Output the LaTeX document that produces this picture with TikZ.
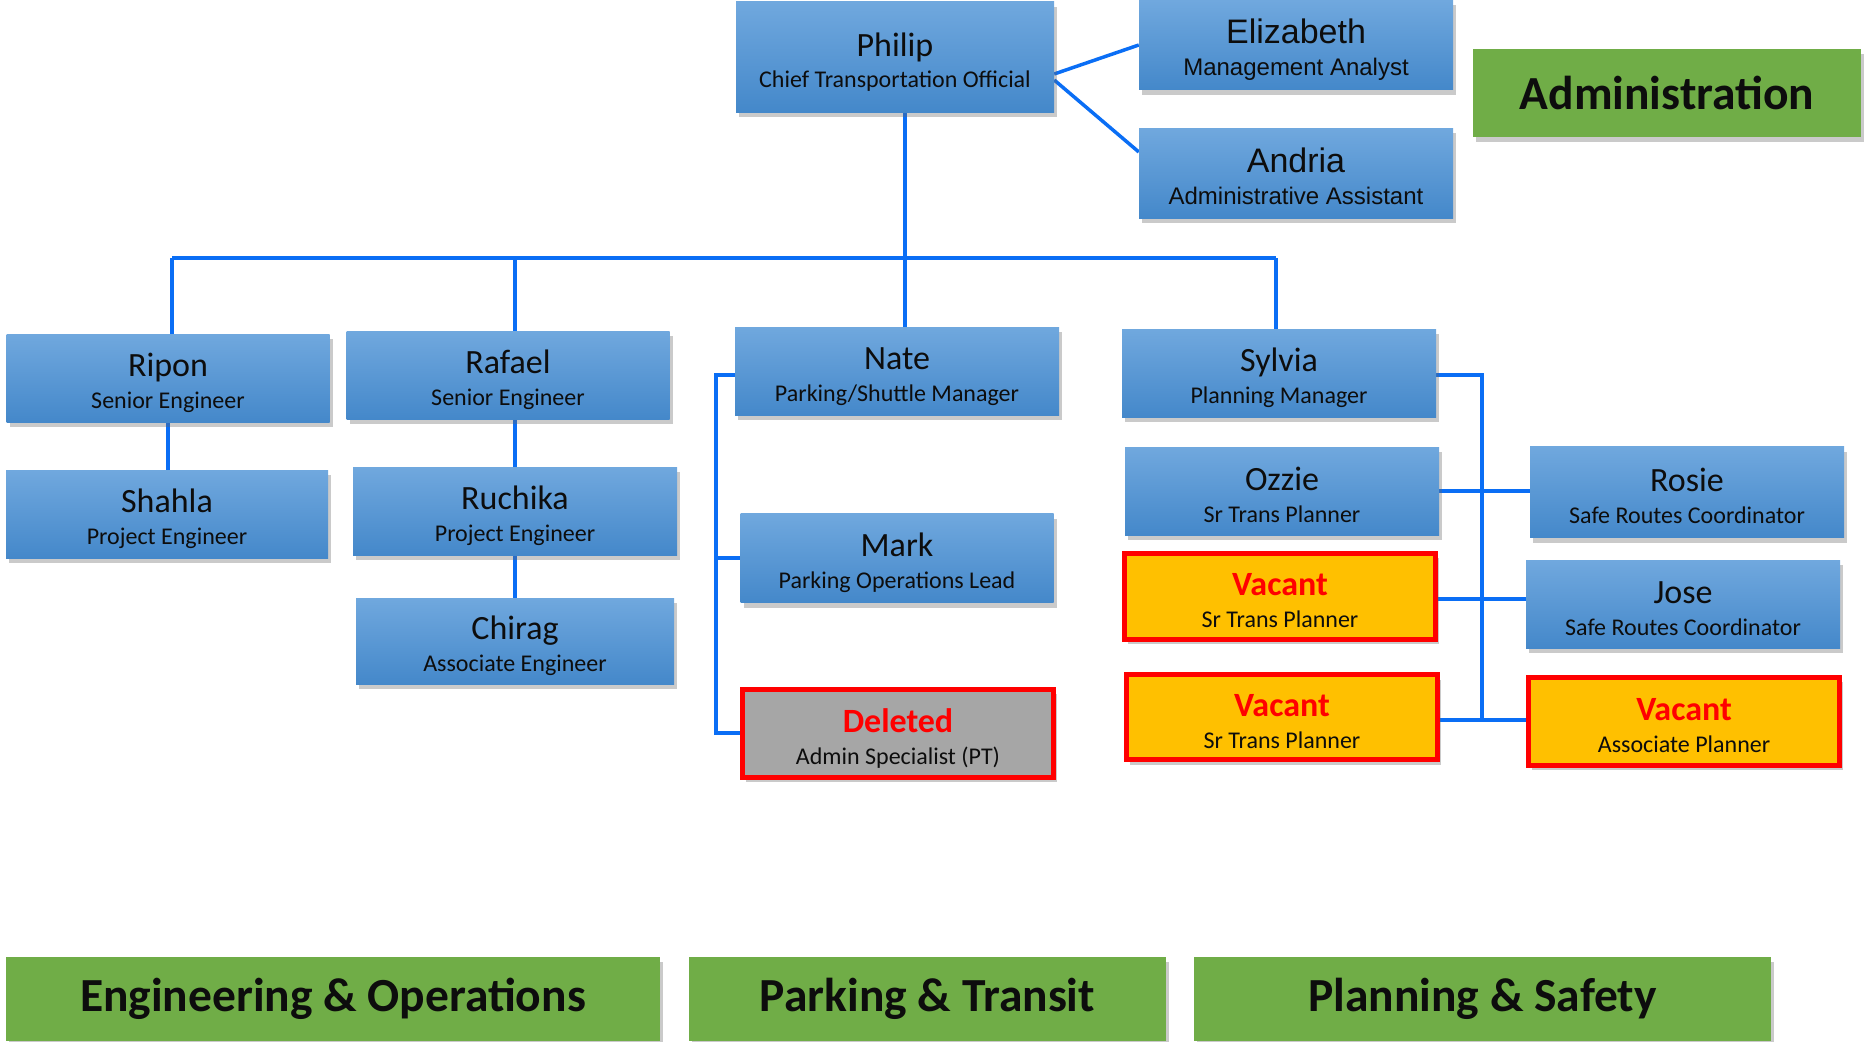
\documentclass[tikz,border=0pt]{standalone}
\usepackage{fontspec}
\setmainfont{Carlito}
\newfontfamily\arialfont{Liberation Sans}
\usetikzlibrary{shadows,backgrounds}

\definecolor{boxtop}{RGB}{112,168,222}
\definecolor{boxbot}{RGB}{68,136,202}
\definecolor{linkblue}{RGB}{10,110,245}
\definecolor{vacantfill}{RGB}{255,192,0}
\definecolor{deletedfill}{RGB}{166,166,166}
\definecolor{groupgreen}{RGB}{112,173,71}
\definecolor{alertred}{RGB}{255,0,0}

% name on top, job title below
\newcommand{\staffname}[2]{\rule{0pt}{34pt}{\fontsize{34}{34}\selectfont #1}\\\rule[-4pt]{0pt}{4pt}#2}
\newcommand{\opening}[1]{\textcolor{alertred}{\bfseries #1}}

\tikzset{
  card/.style={align=center, inner sep=0pt, text=black!95,
    font=\fontsize{24}{32}\selectfont,
    drop shadow={shadow xshift=3pt, shadow yshift=-5pt, opacity=0.35, fill=black!60}},
  staff/.style={card, top color=boxtop, bottom color=boxbot,
    minimum width=316pt, minimum height=88pt},
  vacantbox/.style={card, fill=vacantfill, draw=alertred, line width=5pt,
    minimum width=311pt, minimum height=86pt},
  deletedbox/.style={vacantbox, fill=deletedfill},
  groupbox/.style={card, fill=groupgreen, minimum height=84pt,
    font=\fontsize{47.5}{47.5}\selectfont\bfseries},
  link/.style={draw=linkblue, line width=3.5pt}
}

\begin{document}
\begin{tikzpicture}[x=1pt, y=-1pt]
  \useasboundingbox (0,0) rectangle (1865,1041);

  % Administration
  \node[staff, minimum width=318pt, minimum height=110pt] (philip) at (895,57)
    {\staffname{Philip}{Chief Transportation Official}};
  \node[staff, minimum width=314pt, minimum height=89pt, font=\arialfont\fontsize{24}{32}\selectfont] (elizabeth) at (1296,45)
    {\staffname{Elizabeth}{Management Analyst}};
  \node[staff, minimum width=314pt, minimum height=90pt, font=\arialfont\fontsize{24}{32}\selectfont] (andria) at (1296,173)
    {\staffname{Andria}{Administrative Assistant}};
  \node[groupbox, minimum width=388pt, minimum height=88pt] (admin) at (1667,93) {Administration};

  % Engineering & Operations
  \node[staff, minimum width=323pt] (ripon) at (168,378) {\staffname{Ripon}{Senior Engineer}};
  \node[staff, minimum width=322pt] (shahla) at (167,514) {\staffname{Shahla}{Project Engineer}};
  \node[staff, minimum width=323pt] (rafael) at (508,375) {\staffname{Rafael}{Senior Engineer}};
  \node[staff, minimum width=324pt] (ruchika) at (515,511) {\staffname{Ruchika}{Project Engineer}};
  \node[staff, minimum width=318pt, minimum height=86pt] (chirag) at (515,641) {\staffname{Chirag}{Associate Engineer}};

  % Parking & Transit
  \node[staff, minimum width=324pt] (nate) at (897,371) {\staffname{Nate}{Parking/Shuttle Manager}};
  \node[staff, minimum width=313pt, minimum height=89pt] (mark) at (897,558) {\staffname{Mark}{Parking Operations Lead}};
  \node[deletedbox, minimum height=88pt] (deleted) at (898,733) {\staffname{\opening{Deleted}}{Admin Specialist (PT)}};

  % Planning & Safety
  \node[staff, minimum width=314pt] (sylvia) at (1279,373) {\staffname{Sylvia}{Planning Manager}};
  \node[staff, minimum width=314pt] (ozzie) at (1282,491) {\staffname{Ozzie}{Sr Trans Planner}};
  \node[vacantbox] (vacant1) at (1280,596) {\staffname{\opening{Vacant}}{Sr Trans Planner}};
  \node[vacantbox, minimum height=85pt] (vacant2) at (1282,717) {\staffname{\opening{Vacant}}{Sr Trans Planner}};
  \node[staff, minimum width=314pt, minimum height=91pt] (rosie) at (1687,492) {\staffname{Rosie}{Safe Routes Coordinator}};
  \node[staff, minimum width=314pt] (jose) at (1683,604) {\staffname{Jose}{Safe Routes Coordinator}};
  \node[vacantbox, minimum height=88pt] (vacant3) at (1684,721) {\staffname{\opening{Vacant}}{Associate Planner}};

  % Group labels
  \node[groupbox, minimum width=654pt] (engops) at (333,999) {Engineering \& Operations};
  \node[groupbox, minimum width=477pt] (parktrans) at (927.5,999) {Parking \& Transit};
  \node[groupbox, minimum width=577pt] (plansafe) at (1482.5,999) {Planning \& Safety};

  % Connectors
  \begin{scope}[on background layer]
    \coordinate (busL) at (172,258);
    \coordinate (busR) at (1276,258);
    \draw[link] ([xshift=10pt]philip.south) -- ([xshift=10pt]philip.south |- nate.north);
    \draw[link] ([yshift=-17pt]philip.east) -- (elizabeth.west);
    \draw[link] ([yshift=-23pt]philip.east) -- ([yshift=21pt]andria.west);
    \draw[link] (busL) -- (busR);
    \draw[link] (busL) -- (busL |- ripon.north);
    \draw[link] (ripon.south) -- (ripon.south |- shahla.north);
    \draw[link] (ruchika.north |- busL) -- (ruchika.north |- rafael.north);
    \draw[link] (ruchika.north |- rafael.south) -- (ruchika.north);
    \draw[link] (ruchika.south) -- (chirag.north);
    \draw[link] (busR) -- (busR |- sylvia.north);
    % parking bracket
    \draw[link] ([yshift=-4pt]nate.west) -- ++(-19,0) coordinate (pkbar) |- (deleted.west);
    \draw[link] (mark.west) -- (mark.west -| pkbar);
    % planning bracket
    \draw[link] ([yshift=-2pt]sylvia.east) -- ++(46,0) coordinate (plbar) |- ([yshift=-3pt]vacant2.east);
    \draw[link] (ozzie.east) -- (ozzie.east -| rosie.west);
    \draw[link] ([yshift=-3pt]vacant1.east) -- ([yshift=-3pt]vacant1.east -| jose.west);
    \draw[link] ([yshift=-3pt]vacant2.east) -- ([yshift=-3pt]vacant2.east -| vacant3.west);
  \end{scope}
\end{tikzpicture}
\end{document}
